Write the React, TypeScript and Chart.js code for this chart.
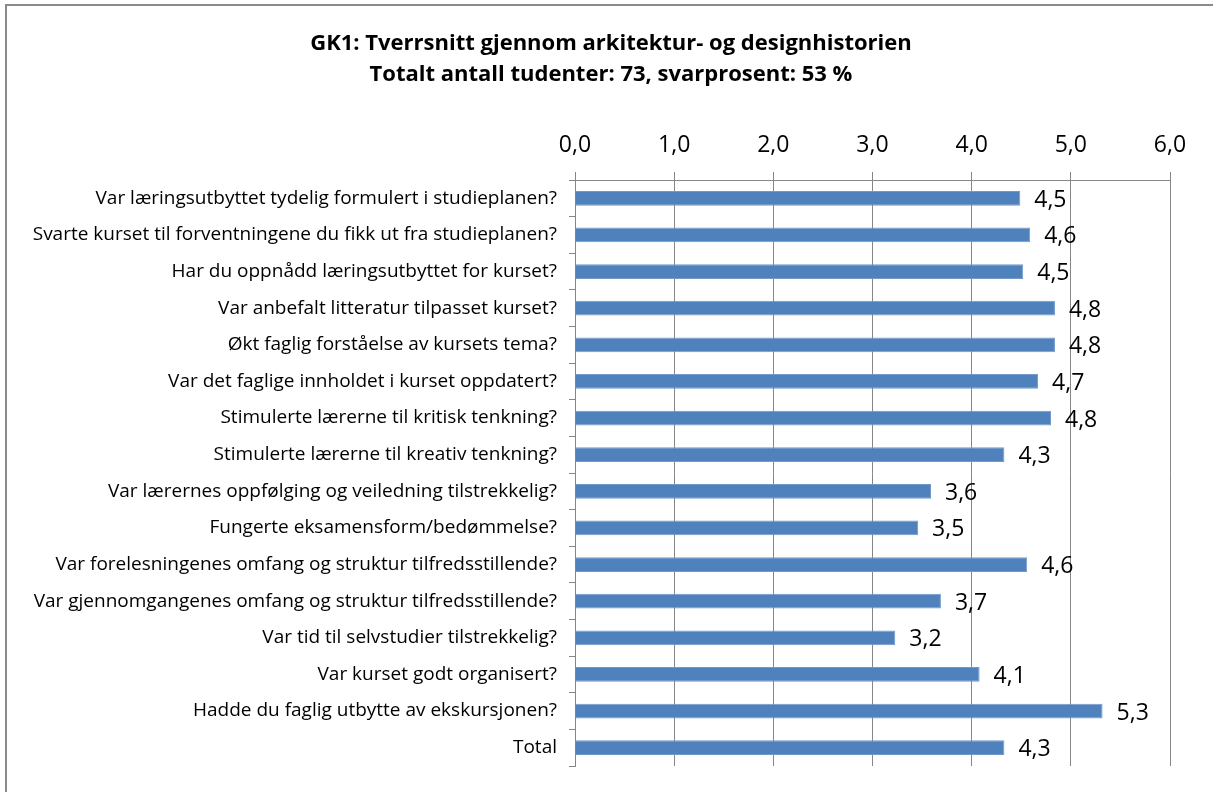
import React, { useEffect, useRef } from "react";
import { Chart, registerables } from "chart.js";

Chart.register(...registerables);

const titleLines = [
  "GK1: Tverrsnitt gjennom arkitektur- og designhistorien",
  "Totalt antall tudenter: 73, svarprosent: 53 %",
];

const categories = [
  "Var læringsutbyttet tydelig formulert i studieplanen?",
  "Svarte kurset til forventningene du fikk ut fra studieplanen?",
  "Har du oppnådd læringsutbyttet for kurset?",
  "Var anbefalt litteratur tilpasset kurset?",
  "Økt faglig forståelse av kursets tema?",
  "Var det faglige innholdet i kurset oppdatert?",
  "Stimulerte lærerne til kritisk tenkning?",
  "Stimulerte lærerne til kreativ tenkning?",
  "Var lærernes oppfølging og veiledning tilstrekkelig?",
  "Fungerte eksamensform/bedømmelse?",
  "Var forelesningenes omfang og struktur tilfredsstillende?",
  "Var gjennomgangenes omfang og struktur tilfredsstillende?",
  "Var tid til selvstudier tilstrekkelig?",
  "Var kurset godt organisert?",
  "Hadde du faglig utbytte av ekskursjonen?",
  "Total",
];

const values = [4.49, 4.59, 4.52, 4.84, 4.84, 4.67, 4.8, 4.33, 3.59, 3.46, 4.56, 3.69, 3.23, 4.08, 5.32, 4.33];

const axisMin = 0;
const axisMax = 6;
const axisStep = 1;

const FONT = "'Open Sans', 'Noto Sans', sans-serif";

const fmt = (v: number) => v.toFixed(1).replace(".", ",");

const valueLabelPlugin = {
  id: "valueLabels",
  afterDatasetsDraw(chart: any) {
    const ctx = chart.ctx;
    const meta = chart.getDatasetMeta(0);
    ctx.save();
    ctx.font = `23px ${FONT}`;
    ctx.fillStyle = "#000";
    ctx.textAlign = "left";
    ctx.textBaseline = "middle";
    meta.data.forEach((bar: any, i: number) => {
      ctx.fillText(fmt(values[i]), bar.x + 14, bar.y + 2);
    });
    ctx.restore();
  },
};

const titlePlugin = {
  id: "centredTitle",
  afterDraw(chart: any) {
    const ctx = chart.ctx;
    ctx.save();
    ctx.font = `bold 22px ${FONT}`;
    ctx.fillStyle = "#000";
    ctx.textAlign = "center";
    ctx.textBaseline = "middle";
    titleLines.forEach((line, i) => {
      ctx.fillText(line, 611, 44 + i * 31);
    });
    ctx.restore();
  },
};

export default function App() {
  const ref = useRef<HTMLCanvasElement>(null);
  useEffect(() => {
    if (!ref.current) return;
    const chart = new Chart(ref.current, {
      type: "bar",
      data: {
        labels: categories,
        datasets: [
          {
            data: values,
            backgroundColor: "#4F81BD",
            borderColor: "#7399C9",
            borderWidth: 1,
            categoryPercentage: 0.4,
            barPercentage: 1,
          },
        ],
      },
      options: {
        indexAxis: "y",
        responsive: false,
        animation: false,
        devicePixelRatio: 1,
        layout: { padding: { left: 10, right: 43, top: 90, bottom: 26 } },
        plugins: {
          legend: { display: false },
          tooltip: { enabled: false },
          title: { display: false },
        },
        scales: {
          x: {
            position: "top",
            min: axisMin,
            max: axisMax,
            ticks: {
              stepSize: axisStep,
              color: "#000",
              font: { family: FONT, size: 23 },
              padding: 13,
              callback: (v: any) => fmt(Number(v)),
            },
            grid: { color: "#868686", lineWidth: 1, tickLength: 8, drawTicks: true },
            border: { color: "#868686" },
            afterFit: (s: any) => {
              s.height = 90;
            },
          },
          y: {
            ticks: {
              color: "#000",
              font: { family: FONT, size: 19 },
              padding: 12,
              autoSkip: false,
            },
            grid: { display: true, drawOnChartArea: false, drawTicks: true, tickLength: 6, color: "#868686", offset: true },
            border: { color: "#868686" },
            afterFit: (s: any) => {
              s.width = 565;
            },
          },
        },
      },
      plugins: [valueLabelPlugin, titlePlugin],
    });
    return () => chart.destroy();
  }, []);

  return (
    <div style={{ position: "fixed", left: 0, top: 0, width: 1213, height: 792, background: "#fff", overflow: "hidden" }}>
      <div
        style={{
          position: "absolute",
          left: 5,
          top: 4,
          width: 1300,
          height: 900,
          borderLeft: "2px solid #8a8a8a",
          borderTop: "2px solid #8a8a8a",
        }}
      />
      <canvas ref={ref} width={1213} height={792} style={{ position: "absolute", left: 0, top: 0, display: "block" }} />
    </div>
  );
}
